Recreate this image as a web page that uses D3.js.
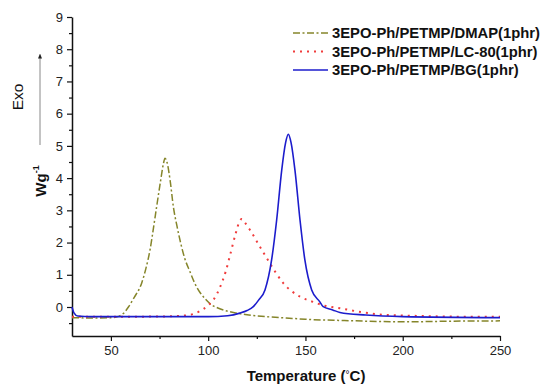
<!DOCTYPE html>
<html><head><meta charset="utf-8">
<script src="https://cdn.jsdelivr.net/npm/d3@7"></script>
<style>body{margin:0;background:#fff}svg{display:block}</style>
</head><body>
<svg id="c" width="550" height="392"></svg>
<script>
const seriesNames = ["3EPO-Ph/PETMP/DMAP(1phr)", "3EPO-Ph/PETMP/LC-80(1phr)", "3EPO-Ph/PETMP/BG(1phr)"];
const xTicks = [50, 100, 150, 200, 250];
const yTicks = [0, 1, 2, 3, 4, 5, 6, 7, 8, 9];
const dmapT = [30,40,50,54,56.4,59,62,65.8,68,70.1,72,73.5,75.5,77,77.8,78.8,80.5,82.1,84,86,88,90.6,93,95.8,98.5,101,105,110,120,130,140,150,170,200,225,250];
const dmapY = [-0.33,-0.34,-0.33,-0.29,-0.2,0.0,0.3,0.74,1.2,1.77,2.5,3.11,3.9,4.45,4.62,4.5,3.9,3.11,2.5,1.95,1.5,1.1,0.75,0.45,0.25,0.1,-0.03,-0.13,-0.24,-0.3,-0.34,-0.38,-0.42,-0.46,-0.44,-0.43];
const lcT = [30,60,80,90,95,100,103,106,109,111,114,116.3,117.3,118.5,121.5,126.6,131.7,138.6,147.2,153.8,160,167.7,180,190,210,230,250];
const lcY = [-0.3,-0.3,-0.29,-0.25,-0.15,0.05,0.25,0.6,1.1,1.55,2.25,2.68,2.73,2.65,2.39,1.87,1.36,0.74,0.32,0.16,0.04,-0.04,-0.17,-0.24,-0.28,-0.3,-0.3];
const bgT = [30,31,33,40,60,100,110,116.3,120,123.2,126,129.2,132.6,135.2,137.8,139.8,141.2,142.6,144.6,147.2,149.7,153.2,157.4,159.1,164,167.7,181,200,250];
const bgY = [0.0,-0.18,-0.28,-0.3,-0.3,-0.3,-0.27,-0.19,-0.11,0.01,0.22,0.53,1.46,2.7,4.25,5.1,5.36,5.1,4.25,2.7,1.46,0.53,0.16,0.01,-0.09,-0.17,-0.25,-0.3,-0.33];

const svg = d3.select("#c");
const x = d3.scaleLinear().domain([30, 250]).range([72, 500]);
const y = d3.scaleLinear().domain([-0.9, 9]).range([336, 17]);
const font = "Arial, 'Liberation Sans', sans-serif";

// axes
const xAxis = d3.axisBottom(x).tickValues(xTicks).tickSize(5).tickSizeOuter(0).tickPadding(5);
svg.append("g").attr("transform", "translate(0,336)").call(xAxis);
const xMinor = d3.axisBottom(x).tickValues([75,125,175,225]).tickSize(3).tickFormat("").tickSizeOuter(0);
svg.append("g").attr("transform", "translate(0,336)").call(xMinor).select(".domain").remove();
const yAxis = d3.axisLeft(y).tickValues(yTicks).tickSize(5).tickSizeOuter(0).tickPadding(4);
svg.append("g").attr("transform", "translate(72,0)").call(yAxis);
const yMinor = d3.axisLeft(y).tickValues([-0.5,0.5,1.5,2.5,3.5,4.5,5.5,6.5,7.5,8.5]).tickSize(3).tickFormat("").tickSizeOuter(0);
svg.append("g").attr("transform", "translate(72,0)").call(yMinor).select(".domain").remove();
svg.selectAll(".domain").attr("stroke", "#111").attr("stroke-width", 1.5);
svg.selectAll(".tick line").attr("stroke", "#111").attr("stroke-width", 1.2);
svg.selectAll(".tick text").attr("font-family", font).attr("font-size", 13).attr("fill", "#222");

// curves
const line = d3.line().x(d => x(d[0])).y(d => y(d[1])).curve(d3.curveMonotoneX);
const styles = [
  {color: "#85852a", dash: "7,2.5,2,2.5", w: 1.5},
  {color: "#f03c3c", dash: "2,5", w: 2},
  {color: "#1c1ccc", dash: null, w: 1.6}
];
const data = [d3.zip(dmapT, dmapY), d3.zip(lcT, lcY), d3.zip(bgT, bgY)];
data.forEach((d, i) => {
  svg.append("path").datum(d).attr("d", line).attr("fill", "none")
    .attr("stroke", styles[i].color).attr("stroke-width", styles[i].w)
    .attr("stroke-dasharray", styles[i].dash);
});

// legend
const ly = [33, 51.5, 70];
seriesNames.forEach((n, i) => {
  svg.append("line").attr("x1", 293).attr("x2", 328).attr("y1", ly[i]).attr("y2", ly[i])
    .attr("stroke", styles[i].color).attr("stroke-width", styles[i].w)
    .attr("stroke-dasharray", styles[i].dash);
  svg.append("text").attr("x", 332).attr("y", ly[i]).attr("dy", "0.36em")
    .attr("font-family", font).attr("font-weight", "bold").attr("font-size", 14.8).attr("fill", "#111").text(n);
});

// axis titles
const xt = svg.append("text").attr("x", 306).attr("y", 381).attr("text-anchor", "middle")
  .attr("font-family", font).attr("font-weight", "bold").attr("font-size", 15).attr("fill", "#111");
xt.append("tspan").text("Temperature (");
xt.append("tspan").attr("font-size", 10).attr("dy", -3).attr("font-weight", "normal").text("°");
xt.append("tspan").attr("dy", 3).text("C)");

const yl = svg.append("text").attr("transform", "translate(46,181) rotate(-90)").attr("text-anchor", "middle")
  .attr("font-family", font).attr("font-weight", "bold").attr("font-size", 15).attr("fill", "#111");
yl.append("tspan").text("Wg");
yl.append("tspan").attr("font-size", 9).attr("dy", -7).text("-1");

svg.append("text").attr("transform", "translate(23,97) rotate(-90)").attr("text-anchor", "middle")
  .attr("font-family", font).attr("font-size", 15.5).attr("fill", "#111").text("Exo");

// arrow
svg.append("defs").append("marker").attr("id", "ah").attr("viewBox", "0 0 10 10").attr("refX", 5).attr("refY", 5)
  .attr("markerWidth", 5).attr("markerHeight", 7).attr("orient", "auto")
  .append("path").attr("d", "M0,1 L10,5 L0,9 Z").attr("fill", "#222");
svg.append("line").attr("x1", 40).attr("x2", 40).attr("y1", 145).attr("y2", 56)
  .attr("stroke", "#888").attr("stroke-width", 1).attr("marker-end", "url(#ah)");
</script>
</body></html>
